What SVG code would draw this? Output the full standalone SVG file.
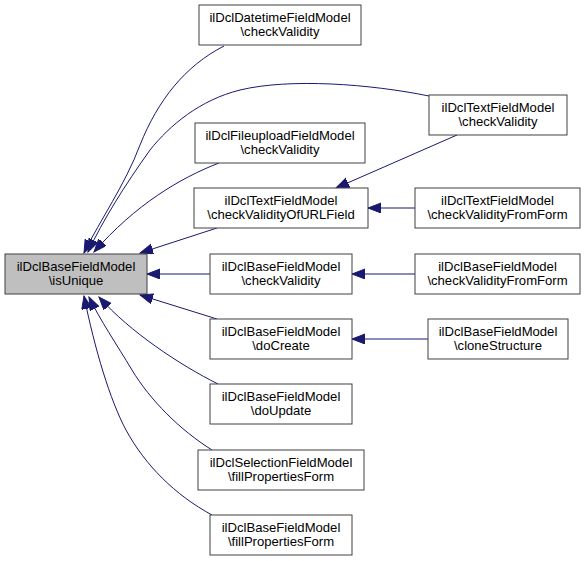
<svg xmlns="http://www.w3.org/2000/svg" width="585" height="561" viewBox="0 0 585 561">
<defs>
<style>
.n rect{fill:#fff;stroke:#404040;stroke-width:1}
#main rect{fill:#bfbfbf}
.n text{font-family:"Liberation Sans",Arial,sans-serif;font-size:13.1px;fill:#000;text-anchor:middle}
.e path{fill:none;stroke:#191970;stroke-width:1;marker-end:url(#ah)}
</style>
<marker id="ah" markerUnits="userSpaceOnUse" markerWidth="16" markerHeight="12" refX="13" refY="5" orient="auto">
<path d="M0,0 L13,5 L0,10 z" fill="#191970" stroke="#191970" stroke-width="1"/>
</marker>
</defs>
<rect width="585" height="561" fill="#fff"/>
<g id="edges" class="e">
<path d="M224,46 C185,66 158,100 140,145 C125,185 100,220 84,253"/>
<path d="M429,96 C370,84 290,78 240,90 C200,100 170,125 150,150 C125,185 103,220 88,252"/>
<path d="M219,163 C180,178 135,205 94,252"/>
<path d="M217,228 L140,253"/>
<path d="M210,274 L147,274"/>
<path d="M217,319 L140,295"/>
<path d="M218,384 C180,365 130,332 99,297"/>
<path d="M212,450 C180,430 150,400 132,370 C117,345 100,320 89,297"/>
<path d="M212,515 C175,495 145,465 126,430 C110,400 95,350 84,296"/>
<path d="M457,135 L336,188"/>
<path d="M415,208 L368,208"/>
<path d="M415,274 L352,274"/>
<path d="M428,339 L352,339"/>
</g>
<g id="main" class="n"><rect x="5" y="254" width="142" height="40"/><text x="76" y="271">ilDclBaseFieldModel</text><text x="76" y="285">\isUnique</text></g>
<g id="datetime" class="n"><rect x="199" y="5" width="162" height="40"/><text x="280" y="22">ilDclDatetimeFieldModel</text><text x="280" y="36">\checkValidity</text></g>
<g id="textcv" class="n"><rect x="429" y="95" width="138" height="40"/><text x="498" y="112">ilDclTextFieldModel</text><text x="498" y="126">\checkValidity</text></g>
<g id="fileupload" class="n"><rect x="195" y="123" width="170" height="40"/><text x="280" y="140">ilDclFileuploadFieldModel</text><text x="280" y="154">\checkValidity</text></g>
<g id="url" class="n"><rect x="194" y="188" width="174" height="40"/><text x="281" y="205">ilDclTextFieldModel</text><text x="281" y="219">\checkValidityOfURLField</text></g>
<g id="textform" class="n"><rect x="415" y="188" width="165" height="40"/><text x="497.5" y="205">ilDclTextFieldModel</text><text x="497.5" y="219">\checkValidityFromForm</text></g>
<g id="basecv" class="n"><rect x="210" y="254" width="142" height="40"/><text x="281" y="271">ilDclBaseFieldModel</text><text x="281" y="285">\checkValidity</text></g>
<g id="baseform" class="n"><rect x="415" y="254" width="165" height="40"/><text x="497.5" y="271">ilDclBaseFieldModel</text><text x="497.5" y="285">\checkValidityFromForm</text></g>
<g id="docreate" class="n"><rect x="210" y="319" width="142" height="40"/><text x="281" y="336">ilDclBaseFieldModel</text><text x="281" y="350">\doCreate</text></g>
<g id="clone" class="n"><rect x="428" y="319" width="140" height="40"/><text x="498" y="336">ilDclBaseFieldModel</text><text x="498" y="350">\cloneStructure</text></g>
<g id="doupdate" class="n"><rect x="210" y="384" width="142" height="40"/><text x="281" y="401">ilDclBaseFieldModel</text><text x="281" y="415">\doUpdate</text></g>
<g id="selfill" class="n"><rect x="198" y="450" width="166" height="40"/><text x="281" y="467">ilDclSelectionFieldModel</text><text x="281" y="481">\fillPropertiesForm</text></g>
<g id="basefill" class="n"><rect x="210" y="515" width="142" height="40"/><text x="281" y="532">ilDclBaseFieldModel</text><text x="281" y="546">\fillPropertiesForm</text></g>
</svg>
